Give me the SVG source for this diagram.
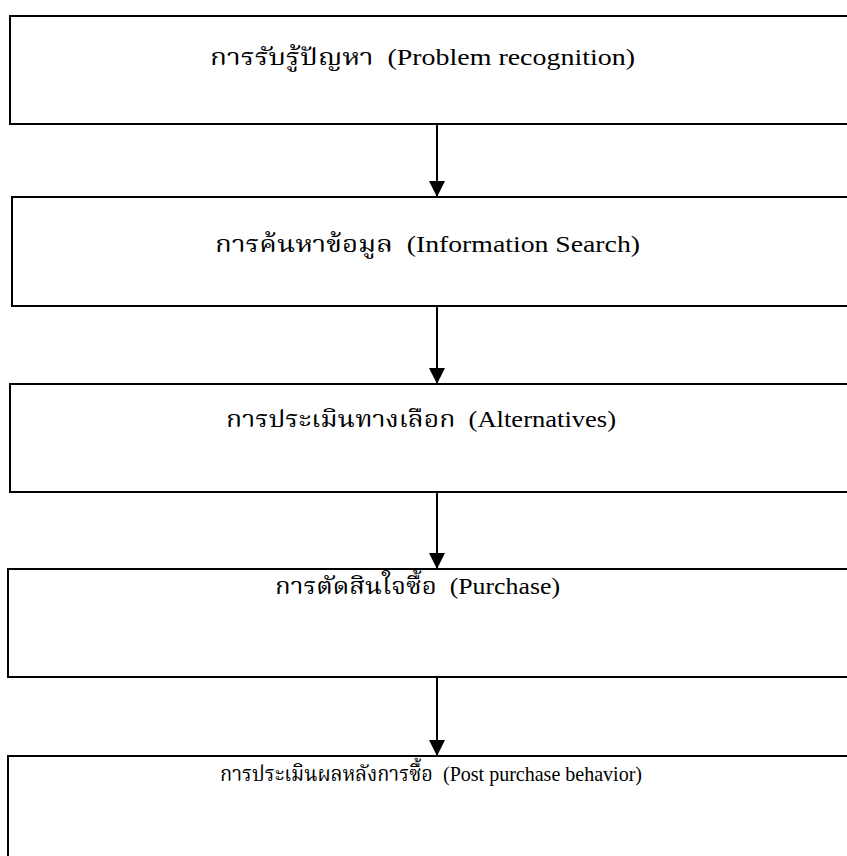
<svg xmlns="http://www.w3.org/2000/svg" width="847" height="856" viewBox="0 0 847 856">
<defs>
<style>
.box{fill:#fff;stroke:#000;stroke-width:2}
.t{font-family:"Liberation Serif","Noto Serif Thai","Noto Sans Thai","DejaVu Serif",serif;font-size:23px;fill:#000;white-space:pre}
.c{stroke:#000;stroke-width:2;fill:none}
</style>
<marker id="ah" viewBox="0 0 16 16" refX="16" refY="8" markerWidth="16" markerHeight="16" markerUnits="userSpaceOnUse" orient="auto">
<path d="M0,0 L16,8 L0,16 Z" fill="#000"/>
</marker>
</defs>
<rect width="847" height="856" fill="#fff"/>
<g id="n1"><rect class="box" x="10" y="16" width="850" height="108"/><text class="t" x="210" y="65" textLength="425" lengthAdjust="spacingAndGlyphs">การรับรู้ปัญหา  (Problem recognition)</text></g>
<g id="n2"><rect class="box" x="12" y="197" width="850" height="109"/><text class="t" x="215" y="252" textLength="425" lengthAdjust="spacingAndGlyphs">การค้นหาข้อมูล  (Information Search)</text></g>
<g id="n3"><rect class="box" x="10" y="384" width="850" height="108"/><text class="t" x="226" y="427" textLength="390" lengthAdjust="spacingAndGlyphs">การประเมินทางเลือก  (Alternatives)</text></g>
<g id="n4"><rect class="box" x="8" y="569" width="850" height="108"/><text class="t" x="275" y="594" textLength="285" lengthAdjust="spacingAndGlyphs">การตัดสินใจซื้อ  (Purchase)</text></g>
<g id="n5"><rect class="box" x="8" y="756" width="850" height="120"/><text class="t" x="220" y="781" textLength="422" lengthAdjust="spacingAndGlyphs" style="font-size:22px">การประเมินผลหลังการซื้อ  (Post purchase behavior)</text></g>
<g id="connectors">
<line class="c" x1="437" y1="124" x2="437" y2="197" marker-end="url(#ah)"/>
<line class="c" x1="437" y1="306" x2="437" y2="384" marker-end="url(#ah)"/>
<line class="c" x1="437" y1="492" x2="437" y2="569" marker-end="url(#ah)"/>
<line class="c" x1="437" y1="677" x2="437" y2="756" marker-end="url(#ah)"/>
</g>
</svg>
